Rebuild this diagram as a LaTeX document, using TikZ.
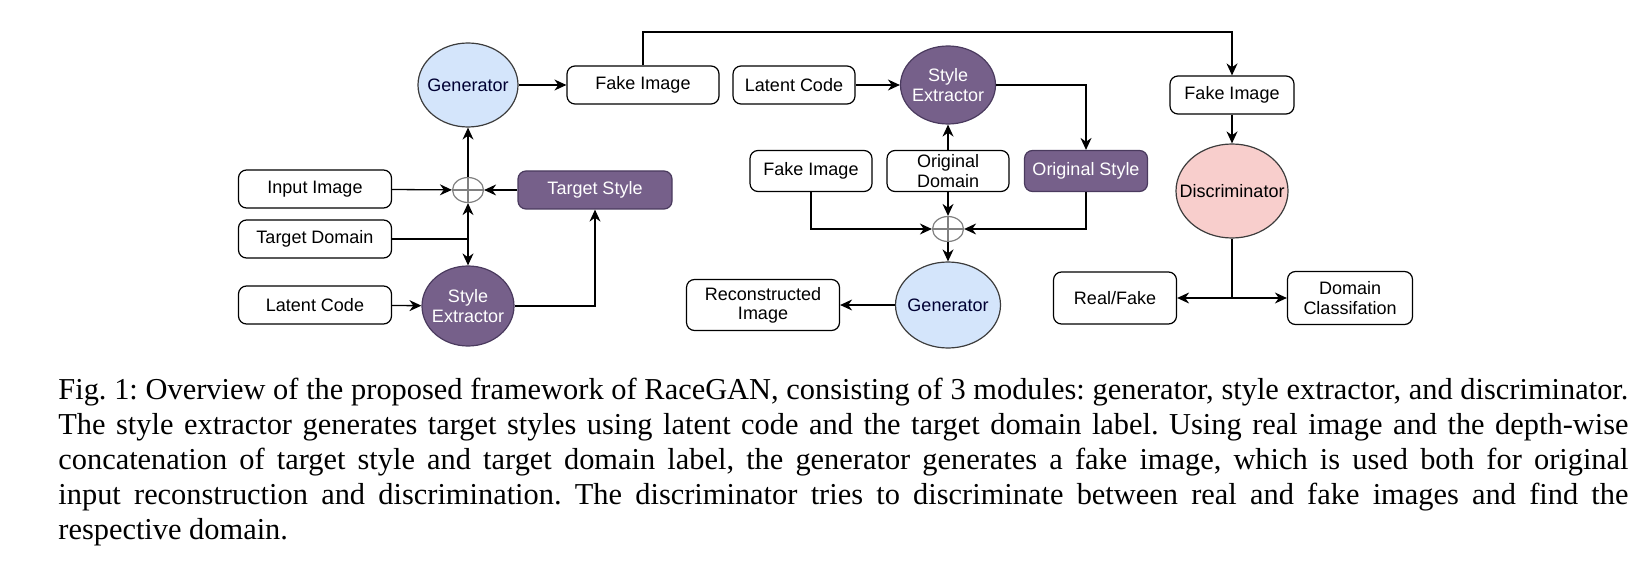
\documentclass[tikz,border=0pt]{standalone}
\usepackage{fontspec}
\setmainfont{Liberation Serif}
\setsansfont{Liberation Sans}
\usetikzlibrary{arrows.meta,shapes,positioning}

\definecolor{genblue}{HTML}{D4E5FB}
\definecolor{discpink}{HTML}{F8CECC}
\definecolor{stylepurple}{HTML}{76608A}
\definecolor{styleedge}{HTML}{4A3A5E}
\definecolor{ovaledge}{HTML}{3C3C3C}

\tikzstyle{box} = [draw, rounded corners=4pt, line width=0.6pt, fill=white, align=center,
  font=\sffamily\fontsize{9}{9.6}\selectfont, inner sep=0pt, minimum height=19pt]
\tikzstyle{sbox} = [box, fill=stylepurple, draw=styleedge, text=white]
\tikzstyle{oval} = [ellipse, draw=ovaledge, line width=0.6pt, align=center,
  font=\sffamily\fontsize{9}{9.6}\selectfont, inner xsep=-8pt, inner ysep=0pt]
\tikzstyle{gen} = [oval, fill=genblue, text=black!80!blue, minimum width=50pt, minimum height=42pt]
\tikzstyle{sext} = [oval, fill=stylepurple, draw=styleedge, text=white, minimum width=46pt, minimum height=40pt]
\tikzstyle{oplus} = [ellipse, draw=gray, line width=0.6pt, inner sep=0pt, minimum width=15.5pt, minimum height=12.5pt,
  path picture={\draw[gray, line width=0.6pt] (path picture bounding box.north) -- (path picture bounding box.south)
    (path picture bounding box.west) -- (path picture bounding box.east);}]
\tikzstyle{link} = [draw, line width=0.65pt]
\tikzstyle{flow} = [link, -{Stealth[length=6pt,width=5.5pt]}]

\begin{document}
\begin{tikzpicture}[x=0.5pt,y=-0.5pt]
  \useasboundingbox (0,0) rectangle (1652,577);

  % generation
  \node[gen] (gen1) at (468,85) {Generator};
  \node[box, minimum width=76pt] (fake1) at (643,85) {Fake Image};
  \node[oplus] (plus1) at (468,190) {};
  \node[box, minimum width=76.5pt] (input) at (315,189) {Input Image};
  \node[sbox, minimum width=77pt] (tstyle) at (595,190) {Target Style};
  \node[box, minimum width=76.5pt] (tdomain) at (315,239) {Target Domain};
  \node[box, minimum width=76.5pt] (latent1) at (315,305) {Latent Code};
  \node[sext] (sext1) at (468,306) {Style\\Extractor};
  \coordinate (tdj) at (tdomain -| plus1);

  \draw[flow] (gen1) -- (fake1);
  \draw[flow] (input) -- (plus1);
  \draw[flow] (tstyle) -- (plus1);
  \draw[flow] (plus1) -- (gen1);
  \draw[link] (tdomain) -- (tdj);
  \draw[flow] (tdj) -- (plus1);
  \draw[flow] (tdj) -- (sext1);
  \draw[flow] (latent1) -- (sext1);
  \draw[flow] (sext1) -| (tstyle);

  % reconstruction
  \node[box, minimum width=61pt] (latent2) at (794,85) {Latent Code};
  \node[sext, minimum width=47.5pt, minimum height=39pt] (sext2) at (948,85) {Style\\Extractor};
  \node[box, minimum width=61pt, minimum height=20.5pt] (fake2) at (811,171) {Fake Image};
  \node[box, minimum width=61pt, minimum height=20.5pt] (odomain) at (948,171) {Original\\Domain};
  \node[sbox, minimum width=61.5pt, minimum height=20.5pt] (ostyle) at (1086,171) {Original Style};
  \node[oplus] (plus2) at (948,229) {};
  \node[gen, minimum width=52.5pt, minimum height=43pt] (gen2) at (948,305) {Generator};
  \node[box, minimum width=76.5pt, minimum height=25.5pt] (recon) at (763,305) {Reconstructed\\Image};

  \draw[flow] (latent2) -- (sext2);
  \draw[flow] (sext2) -| (ostyle);
  \draw[flow] (odomain) -- (sext2);
  \draw[flow] (odomain) -- (plus2);
  \draw[flow] (fake2) |- (plus2);
  \draw[flow] (ostyle) |- (plus2);
  \draw[flow] (plus2) -- (gen2);
  \draw[flow] (gen2) -- (recon);

  % discrimination
  \node[box, minimum width=62pt] (fake3) at (1232,95) {Fake Image};
  \node[oval, fill=discpink, text=black, minimum width=56pt, minimum height=47pt] (disc) at (1232,191) {Discriminator};
  \node[box, minimum width=61.5pt, minimum height=26pt] (realfake) at (1115,298) {Real/Fake};
  \node[box, minimum width=62.5pt, minimum height=26.5pt] (domcls) at (1350,298) {Domain\\Classifation};
  \coordinate (topline) at (0,32);
  \coordinate (djn) at (disc |- realfake);

  \draw[flow] (fake1) -- (fake1 |- topline) -| (fake3);
  \draw[flow] (fake3) -- (disc);
  \draw[link] (disc) -- (djn);
  \draw[flow] (djn) -- (realfake);
  \draw[flow] (djn) -- (domcls);

  % caption
  \node[anchor=north west, inner sep=0pt, text width=785pt, align=justify,
    font=\fontsize{15.2}{17.5}\selectfont] (cap) at (58,378)
    {\frenchspacing\hyphenpenalty=10000 Fig. 1: Overview of the proposed framework of RaceGAN, consisting of 3 modules: generator, style extractor, and discriminator.\linebreak
    The style extractor generates target styles using latent code and the target domain label. Using real image and the depth-wise\linebreak
    concatenation of target style and target domain label, the generator generates a fake image, which is used both for original\linebreak
    input reconstruction and discrimination. The discriminator tries to discriminate between real and fake images and find the\linebreak
    respective domain.};
\end{tikzpicture}
\end{document}
